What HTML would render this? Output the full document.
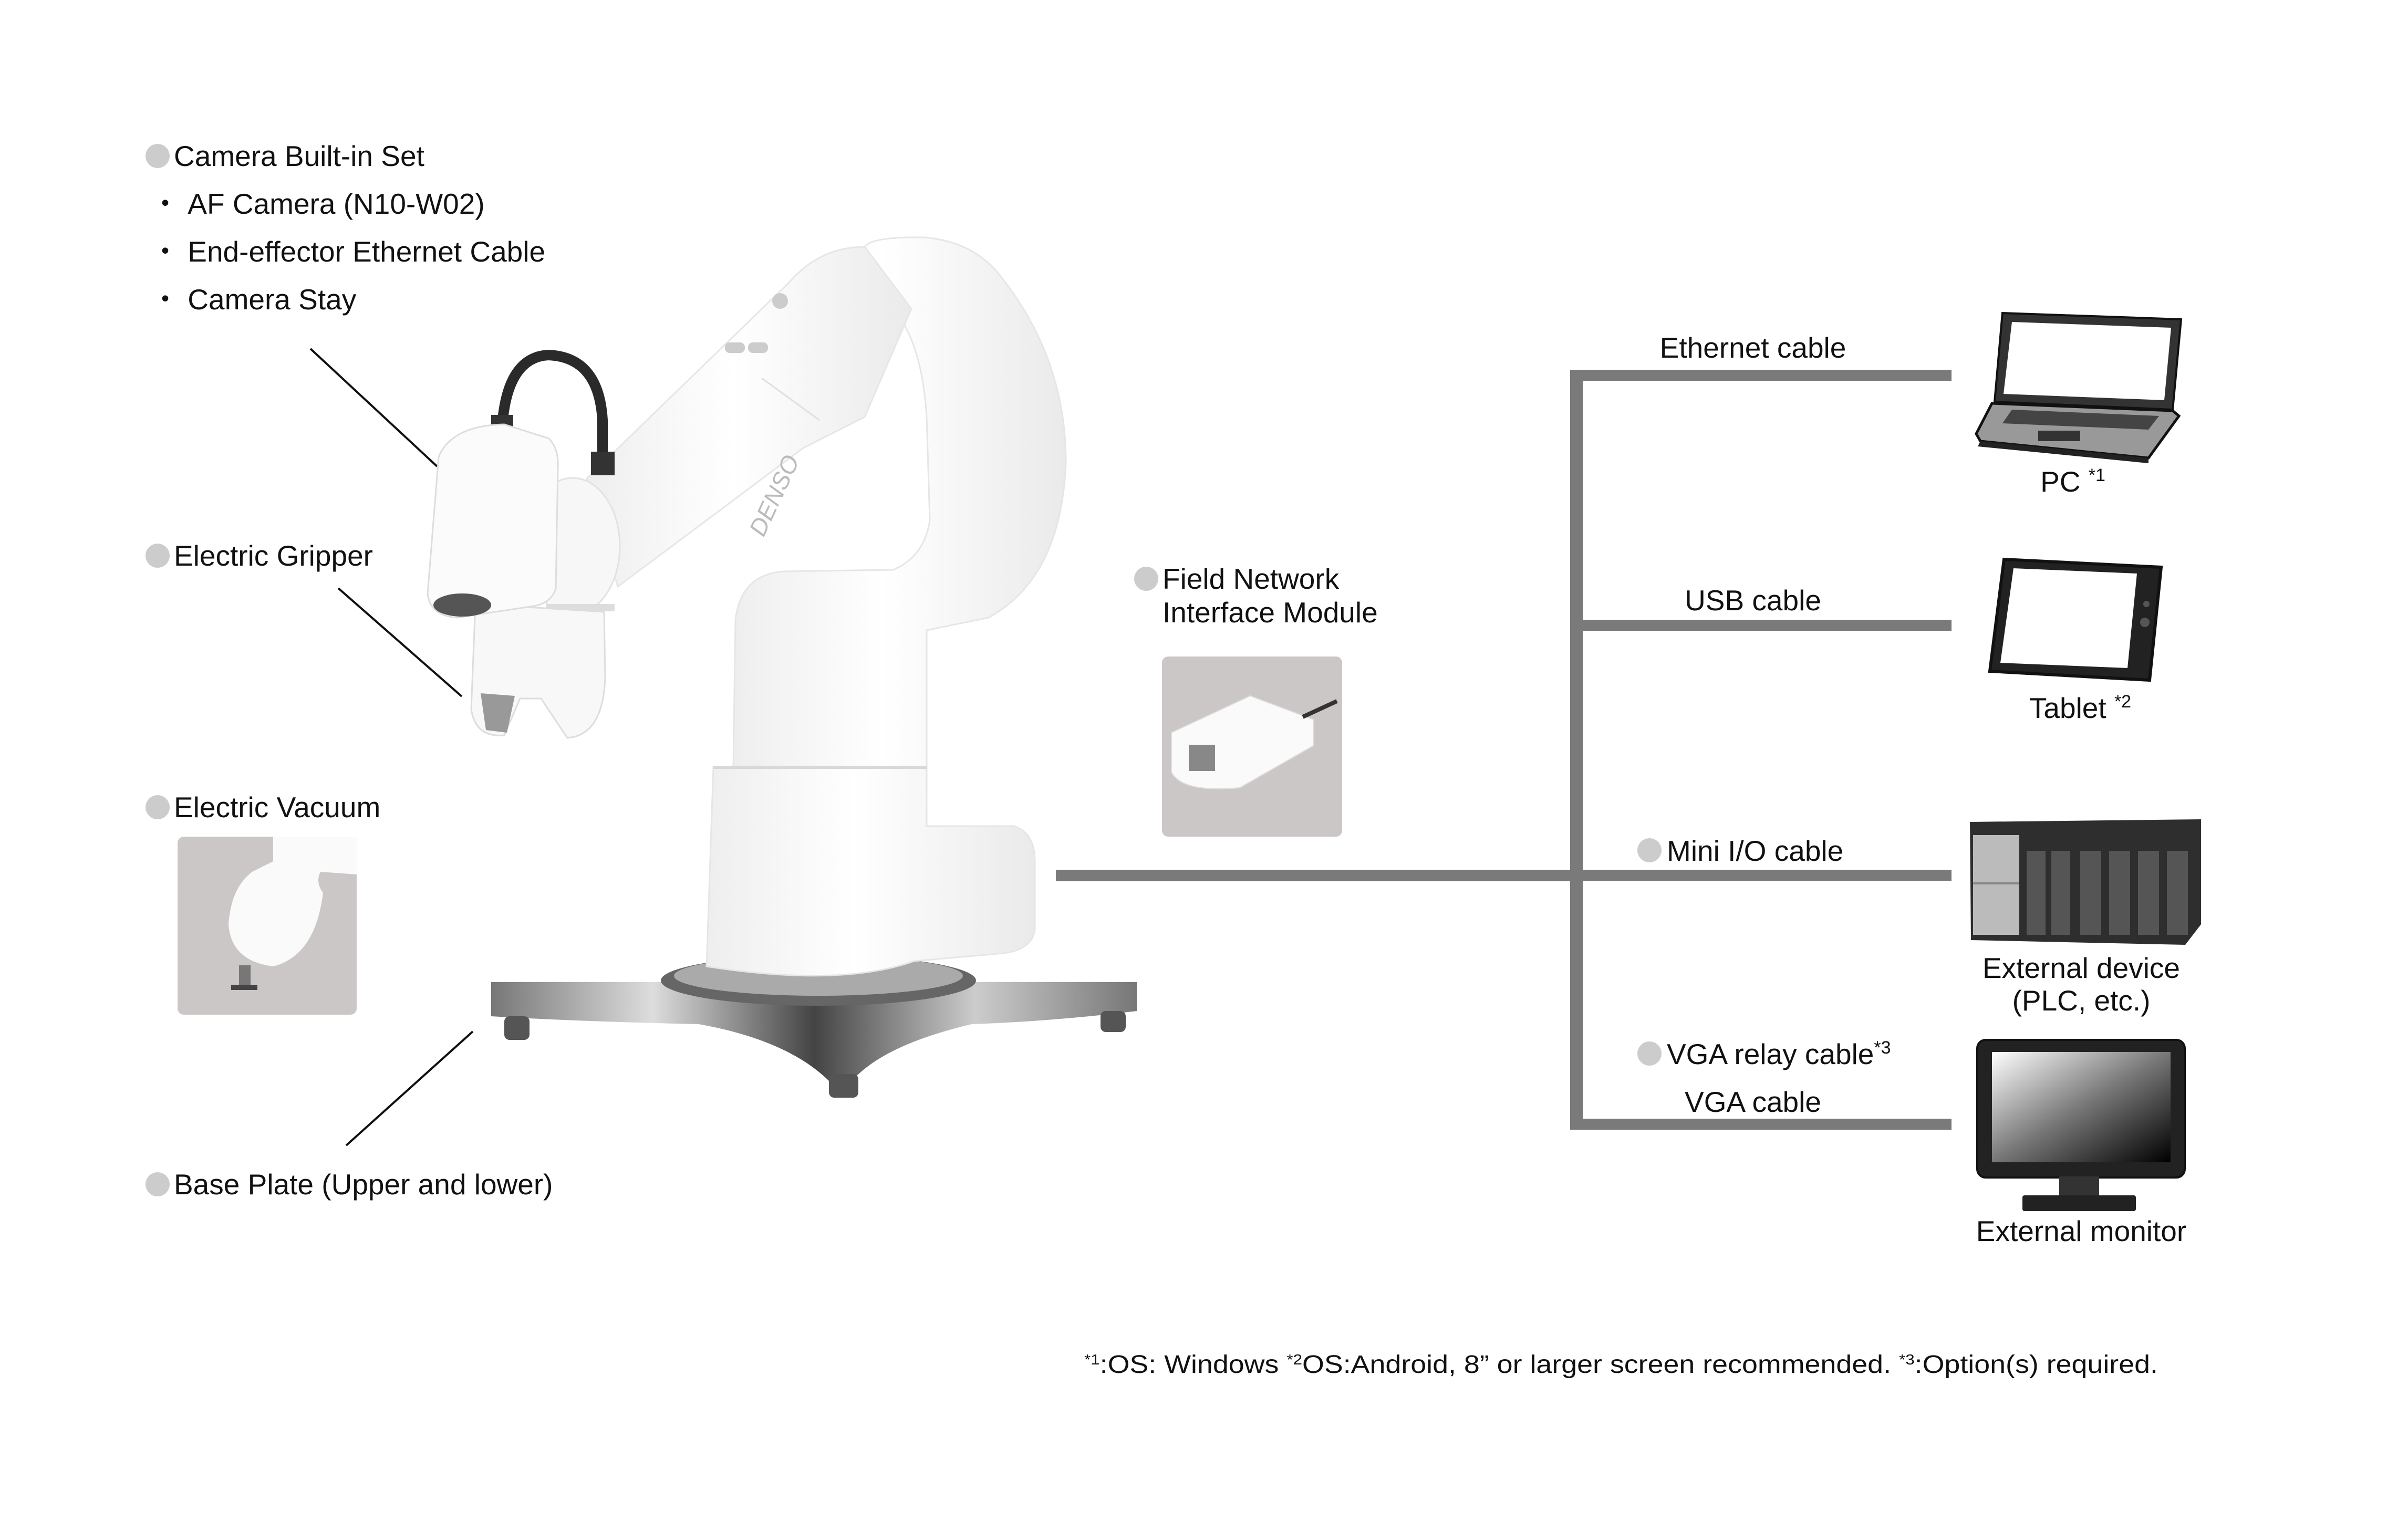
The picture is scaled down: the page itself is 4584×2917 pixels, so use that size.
<!DOCTYPE html>
<html><head><meta charset="utf-8"><style>
html,body{margin:0;padding:0;background:#fff}
svg{display:block}
text{font-family:"Liberation Sans",sans-serif;fill:#111}
</style></head><body>
<svg width="4584" height="2917" viewBox="0 0 4584 2917" xmlns="http://www.w3.org/2000/svg">
<defs>
<linearGradient id="scr" x1="0" y1="0" x2="1" y2="1"><stop offset="0" stop-color="#fff"/><stop offset="0.5" stop-color="#777"/><stop offset="1" stop-color="#000"/></linearGradient>
<linearGradient id="metal" x1="0" y1="0" x2="1" y2="0"><stop offset="0" stop-color="#777"/><stop offset="0.25" stop-color="#ddd"/><stop offset="0.5" stop-color="#444"/><stop offset="0.75" stop-color="#ccc"/><stop offset="1" stop-color="#777"/></linearGradient>
<linearGradient id="body" x1="0" y1="0" x2="1" y2="0"><stop offset="0" stop-color="#eeeeee"/><stop offset="0.45" stop-color="#fff"/><stop offset="1" stop-color="#eaeaea"/></linearGradient>
</defs>

<!-- Left labels -->
<g font-size="55">
<circle cx="300" cy="297" r="23" fill="#ccc"/>
<text x="331" y="316">Camera Built-in Set</text>
<text x="287" y="407">・ AF Camera (N10-W02)</text>
<text x="287" y="498">・ End-effector Ethernet Cable</text>
<text x="287" y="589">・ Camera Stay</text>
<circle cx="300" cy="1058" r="23" fill="#ccc"/>
<text x="331" y="1077">Electric Gripper</text>
<circle cx="300" cy="1537" r="23" fill="#ccc"/>
<text x="331" y="1556">Electric Vacuum</text>
<circle cx="300" cy="2255" r="23" fill="#ccc"/>
<text x="331" y="2274">Base Plate (Upper and lower)</text>
</g>
<g stroke="#111" stroke-width="4">
<line x1="591" y1="664" x2="832" y2="888"/>
<line x1="644" y1="1120" x2="879" y2="1326"/>
<line x1="900" y1="1964" x2="659" y2="2181"/>
</g>

<!-- vacuum image box -->
<rect x="338" y="1593" width="341" height="339" rx="12" fill="#cbc7c7"/>
<path d="M520 1593 L679 1593 L679 1665 L610 1660 Q600 1680 615 1700 Q600 1820 520 1840 Q440 1830 435 1760 Q440 1690 480 1660 L520 1640 Z" fill="#fafafa"/>
<rect x="455" y="1838" width="22" height="40" fill="#777"/>
<rect x="440" y="1875" width="50" height="10" fill="#444"/>

<!-- Robot -->
<path d="M935 1870 L2164 1870 L2164 1925 Q2000 1945 1850 1950 Q1680 1990 1620 2060 L1580 2060 Q1500 1980 1330 1950 Q1100 1945 935 1935 Z" fill="url(#metal)"/>
<ellipse cx="1558" cy="1867" rx="300" ry="48" fill="#666"/>
<ellipse cx="1558" cy="1858" rx="275" ry="38" fill="#aaa"/>
<rect x="960" y="1935" width="48" height="45" rx="10" fill="#555"/>
<rect x="2095" y="1925" width="48" height="40" rx="10" fill="#555"/>
<rect x="1578" y="2045" width="56" height="45" rx="10" fill="#555"/>
<!-- pedestal -->
<path d="M1345 1840 L1358 1461 L1764 1461 L1764 1573 L1930 1573 Q1970 1585 1970 1640 L1970 1770 Q1965 1808 1910 1815 L1740 1830 Q1600 1880 1345 1840 Z" fill="url(#body)" stroke="#e6e6e6" stroke-width="3"/>
<!-- shoulder + upper arm -->
<path d="M1396 1461 L1400 1180 Q1410 1095 1490 1088 L1700 1085 Q1760 1060 1770 990 L1764 794 Q1755 650 1700 588 L1646 470 Q1660 450 1760 452 Q1850 460 1900 520 Q2030 680 2029 882 Q2020 1100 1882 1176 L1764 1200 L1764 1461 Z" fill="url(#body)" stroke="#e6e6e6" stroke-width="3"/>
<line x1="1358" y1="1461" x2="1764" y2="1461" stroke="#d8d8d8" stroke-width="6"/>
<!-- forearm -->
<path d="M1646 470 Q1560 470 1500 540 L1117 911 L1176 1117 L1529 853 L1646 794 L1735 588 Z" fill="url(#body)" stroke="#e6e6e6" stroke-width="3"/>
<line x1="1450" y1="720" x2="1560" y2="800" stroke="#e0e0e0" stroke-width="3"/>
<circle cx="1485" cy="573" r="15" fill="#ccc"/>
<rect x="1380" y="652" width="38" height="20" rx="9" fill="#ccc"/>
<rect x="1424" y="652" width="38" height="20" rx="9" fill="#ccc"/>
<text x="1400" y="1020" font-size="46" font-style="italic" transform="rotate(-65 1430 980)" style="fill:#bbb">DENSO</text>
<!-- wrist -->
<ellipse cx="1090" cy="1040" rx="90" ry="130" fill="#f7f7f7" stroke="#e2e2e2" stroke-width="3"/>
<rect x="1040" y="1150" width="130" height="14" fill="#ddd"/>
<!-- gripper -->
<path d="M905 1150 L1150 1165 L1152 1290 Q1148 1400 1080 1405 L1030 1330 L990 1330 L960 1400 Q905 1405 897 1350 Z" fill="#f8f8f8" stroke="#ddd" stroke-width="3"/>
<path d="M915 1320 L980 1325 L965 1395 L925 1390 Z" fill="#999"/>
<!-- cable -->
<path d="M955 830 Q960 680 1044 676 Q1140 680 1147 800 L1147 882" stroke="#2a2a2a" stroke-width="20" fill="none"/>
<rect x="935" y="790" width="42" height="60" fill="#333"/>
<rect x="1125" y="860" width="45" height="45" fill="#333"/>
<!-- camera -->
<path d="M835 870 Q860 810 960 808 L1045 835 Q1064 855 1062 890 L1058 1120 Q1050 1150 1010 1155 L870 1176 Q818 1172 814 1130 Z" fill="#fbfbfb" stroke="#ddd" stroke-width="3"/>
<ellipse cx="880" cy="1152" rx="55" ry="22" fill="#555"/>

<!-- Field network module -->
<circle cx="2182" cy="1102" r="23" fill="#ccc"/>
<text x="2213" y="1121" font-size="55">Field Network</text>
<text x="2213" y="1185" font-size="55">Interface Module</text>
<rect x="2212" y="1250" width="343" height="343" rx="12" fill="#cbc7c7"/>
<path d="M2230 1395 L2380 1325 L2500 1370 L2500 1420 L2360 1500 Q2250 1510 2230 1470 Z" fill="#fafafa" stroke="#ddd" stroke-width="2"/>
<rect x="2263" y="1418" width="50" height="50" fill="#888"/>
<line x1="2480" y1="1365" x2="2545" y2="1335" stroke="#333" stroke-width="8"/>

<!-- network lines -->
<g fill="#7a7a7a">
<rect x="2010" y="1656" width="990" height="22"/>
<rect x="2989" y="704" width="24" height="1447"/>
<rect x="2989" y="704" width="726" height="21"/>
<rect x="2989" y="1180" width="726" height="21"/>
<rect x="2989" y="1656" width="726" height="21"/>
<rect x="2989" y="2130" width="726" height="21"/>
</g>
<g font-size="55" text-anchor="middle">
<text x="3337" y="681">Ethernet cable</text>
<text x="3337" y="1162">USB cable</text>
<text x="3337" y="2117">VGA cable</text>
</g>
<g font-size="55">
<circle cx="3140" cy="1619" r="23" fill="#ccc"/>
<text x="3173" y="1639">Mini I/O cable</text>
<circle cx="3140" cy="2006" r="23" fill="#ccc"/>
<text x="3173" y="2026">VGA relay cable<tspan font-size="34" dy="-20">*3</tspan></text>
</g>

<!-- laptop -->
<path d="M3812 596 L4152 608 L4136 780 L3797 765 Z" fill="#333" stroke="#111" stroke-width="4"/>
<path d="M3830 613 L4133 624 L4120 762 L3814 750 Z" fill="#fff"/>
<path d="M3792 768 L4136 782 L4148 792 L4090 872 L3770 840 L3762 826 Z" fill="#999" stroke="#111" stroke-width="5"/>
<path d="M3830 780 L4110 792 L4090 818 L3812 806 Z" fill="#444"/>
<rect x="3880" y="820" width="80" height="20" fill="#333"/>
<path d="M3770 840 L4090 872 L4090 882 L3765 850 Z" fill="#222"/>
<!-- tablet -->
<path d="M3815 1065 L4114 1080 L4092 1295 L3788 1278 Z" fill="#222" stroke="#111" stroke-width="6"/>
<path d="M3833 1082 L4068 1092 L4050 1272 L3808 1262 Z" fill="#fff"/>
<circle cx="4086" cy="1150" r="6" fill="#555"/><circle cx="4083" cy="1185" r="9" fill="#555"/>
<!-- PLC -->
<path d="M3750 1565 L4190 1560 L4190 1760 L4160 1799 L3752 1790 Z" fill="#2e2e2e"/>
<rect x="3756" y="1590" width="88" height="190" fill="#bbb"/>
<rect x="3756" y="1680" width="88" height="4" fill="#888"/>
<g fill="#555"><rect x="3858" y="1620" width="36" height="160"/><rect x="3905" y="1620" width="36" height="160"/><rect x="3960" y="1620" width="40" height="160"/><rect x="4015" y="1620" width="40" height="160"/><rect x="4070" y="1620" width="40" height="160"/><rect x="4125" y="1620" width="40" height="160"/></g>
<!-- monitor -->
<rect x="3764" y="1980" width="395" height="262" rx="16" fill="#222" stroke="#111" stroke-width="4"/>
<rect x="3792" y="2003" width="340" height="210" fill="url(#scr)"/>
<rect x="3920" y="2240" width="76" height="40" fill="#333"/>
<rect x="3850" y="2276" width="216" height="30" rx="4" fill="#222"/>

<g font-size="55" text-anchor="middle">
<text x="3946" y="936">PC <tspan font-size="34" dy="-20">*1</tspan></text>
<text x="3960" y="1367">Tablet <tspan font-size="34" dy="-20">*2</tspan></text>
<text x="3962" y="1862">External device</text>
<text x="3962" y="1924">(PLC, etc.)</text>
<text x="3962" y="2363">External monitor</text>
</g>
<text x="2064" y="2614" font-size="48" textLength="2044" lengthAdjust="spacingAndGlyphs"><tspan font-size="28" dy="-16">*1</tspan><tspan dy="16">:OS: Windows    </tspan><tspan font-size="28" dy="-16">*2</tspan><tspan dy="16">OS:Android, 8” or larger screen recommended.   </tspan><tspan font-size="28" dy="-16">*3</tspan><tspan dy="16">:Option(s) required.</tspan></text>
</svg>
</body></html>
